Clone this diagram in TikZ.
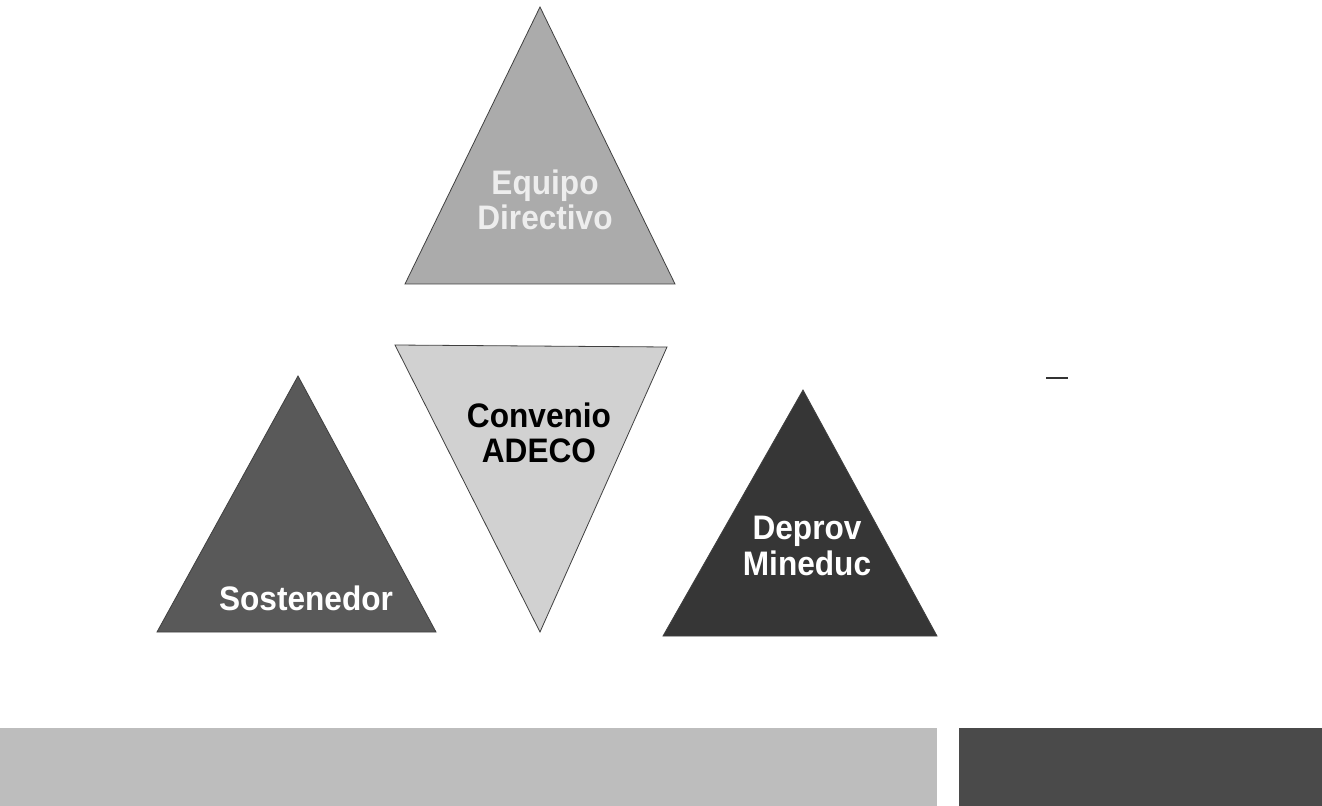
\documentclass[tikz,border=0pt]{standalone}
\usepackage{fontspec}
\setmainfont{Liberation Sans}
\newfontfamily\lblfont[FakeStretch=0.93]{Liberation Sans}
\begin{document}
\begin{tikzpicture}[x=0.75pt,y=-0.75pt,
  tri/.style={draw=black!75,line width=0.6pt,line join=miter},
  lbl/.style={font=\lblfont\bfseries\fontsize{25.5}{26.5}\selectfont,align=center,inner sep=0pt},
  bar/.style={draw=none}]
\useasboundingbox (0,0) rectangle (1322,806);
\fill[white] (0,0) rectangle (1322,806);
% top triangle
\draw[tri,fill=black!33] (540,7) -- (675,284) -- (405,284) -- cycle;
\node[lbl,text=black!7] (equipo) at (545,200) {Equipo\\Directivo};
% inverted triangle
\draw[tri,fill=black!18] (395,345) -- (667,347) -- (540,632) -- cycle;
\node[lbl,text=black] (convenio) at (539,433) {Convenio\\ADECO};
% left triangle
\draw[tri,fill=black!65] (298,376) -- (436,632) -- (157,632) -- cycle;
\node[lbl,text=white] (sost) at (306,598) {Sostenedor};
% right triangle
\draw[tri,fill=black!79] (803,390) -- (937,636) -- (663,636) -- cycle;
\node[lbl,text=white] (deprov) at (807,546) {Deprov\\Mineduc};
% bottom bars
\fill[bar,fill=black!26] (0,728) rectangle (937,806);
\fill[bar,fill=black!71] (959,728) rectangle (1322,806);
% small mark
\draw[black!80,line width=0.8pt] (1046,378) -- (1068,378);
\end{tikzpicture}
\end{document}
